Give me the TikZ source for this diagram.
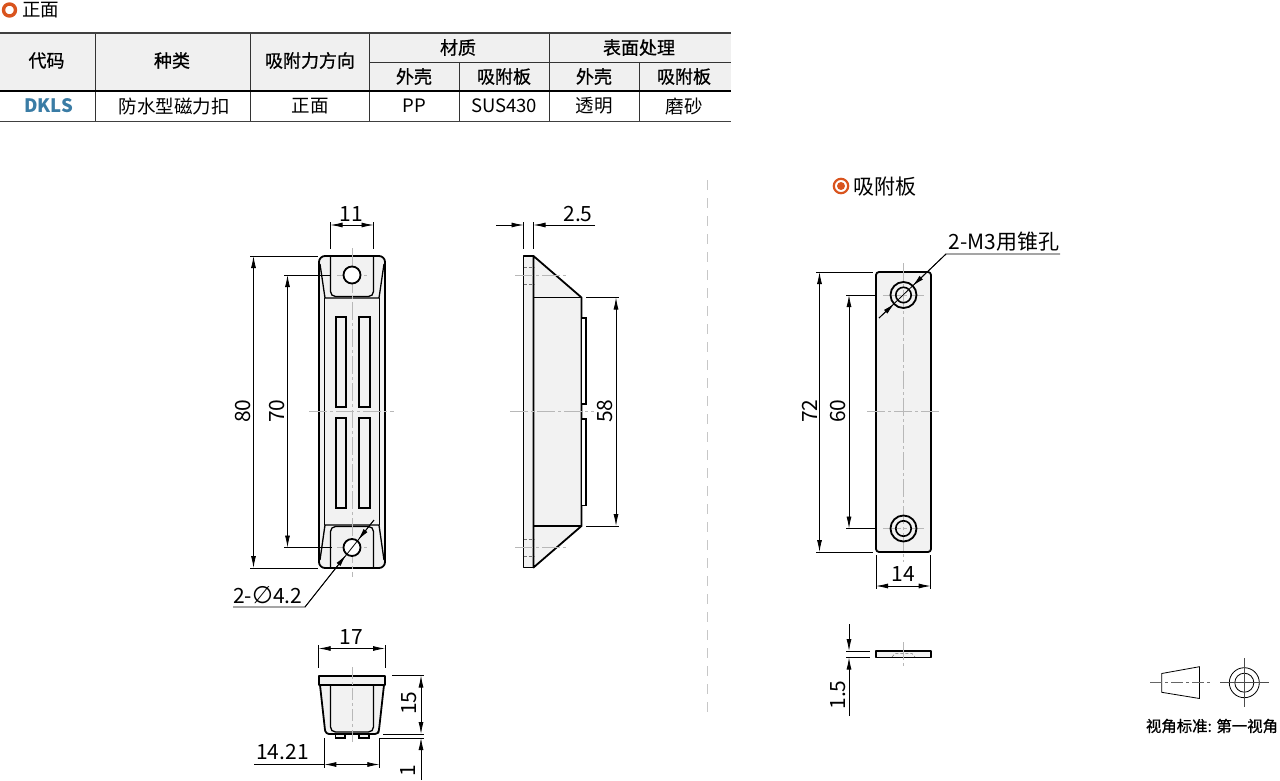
\documentclass[tikz,border=0pt]{standalone}
\usepackage{fontspec}
\setmainfont{Noto Sans CJK SC}
\newfontfamily\symfont{DejaVu Sans}
\newfontfamily\headfont[FakeBold=0.8]{Noto Sans CJK SC}
\usetikzlibrary{arrows.meta}
\definecolor{partfill}{HTML}{F2F2F2}
\definecolor{headfill}{HTML}{F0F0F0}
\definecolor{ringcol}{HTML}{D9541E}
\definecolor{codeblue}{HTML}{3A7CA5}
\tikzset{
    part/.style={draw=black, line width=1.8pt, fill=partfill, line join=round},
    edge/.style={draw=black, line width=1.3pt},
    dimline/.style={line width=0.8pt, {Latex[length=12pt,width=5pt]}-{Latex[length=12pt,width=5pt]}},
    leftdim/.style={line width=0.8pt, -{Latex[length=12pt,width=5pt]}},
    extline/.style={line width=0.8pt},
    axis/.style={draw=black!28, line width=0.6pt, dash pattern=on 18pt off 3pt on 3pt off 3pt},
    hidden/.style={draw=black!55, line width=0.8pt, dash pattern=on 3pt off 2pt},
    dimtext/.style={inner sep=0pt, font=\fontsize{21}{21}\selectfont},
    celltext/.style={inner sep=0pt, font=\fontsize{18.5}{18.5}\selectfont},
    headtext/.style={inner sep=0pt, font=\fontsize{18}{18}\headfont},
    tablerule/.style={draw=black!75, line width=1.8pt},
    cellrule/.style={draw=black!80, line width=0.9pt},
}
\begin{document}
\begin{tikzpicture}[x=1pt,y=-1pt]
    \useasboundingbox (0,0) rectangle (1280,781);

    % table
    \draw[ringcol, line width=3.4pt] (9.5,10) circle (6);
    \node[celltext, anchor=west] (titlefront) at (22,10.5) {正面};
    \fill[headfill] (0,33) rectangle (731,91);
    \foreach \xpos in {95,250,369,549} {
        \draw[cellrule] (\xpos,33) -- (\xpos,122);
    }
    \foreach \xpos in {459,639} {
        \draw[cellrule] (\xpos,62) -- (\xpos,122);
    }
    \draw[cellrule] (369,62) -- (731,62);
    \draw[tablerule] (0,33) -- (731,33);
    \draw[tablerule, draw=black] (0,91) -- (731,91);
    \draw[tablerule] (0,121.5) -- (731,121.5);

    \node[headtext] (headcode) at (46.5,60.5) {代码};
    \node[headtext] (headkind) at (172,60.5) {种类};
    \node[headtext] (headdir) at (310,60.5) {吸附力方向};
    \node[headtext] (headmat) at (458,47.5) {材质};
    \node[headtext] (headsurf) at (639,47.5) {表面处理};
    \node[headtext] (headcaseA) at (414,76.5) {外壳};
    \node[headtext] (headplateA) at (504,76.5) {吸附板};
    \node[headtext] (headcaseB) at (594,76.5) {外壳};
    \node[headtext] (headplateB) at (684,76.5) {吸附板};
    \node[inner sep=0pt, font=\fontsize{18.5}{18.5}\bfseries\selectfont, text=codeblue] (cellcode) at (48.5,105.5) {DKLS};
    \node[celltext] (cellkind) at (174,106) {防水型磁力扣};
    \node[celltext] (celldir) at (310,106) {正面};
    \node[celltext] (cellcase) at (414,106) {PP};
    \node[celltext] (cellplate) at (504,106) {SUS430};
    \node[celltext] (cellclear) at (594,106) {透明};
    \node[celltext] (cellfrost) at (684,106) {磨砂};

    \draw[black!22, line width=0.8pt, dash pattern=on 10pt off 8pt] (707,180) -- (707,712);

    % front view
    \path[part, rounded corners=6pt] (319,256) rectangle (385,568);
    \draw[edge] (324.5,298) -- (324.5,525) (379.5,298) -- (379.5,525);
    \draw[edge] (320,264) -- (325,298) -- (379,298) -- (384,264);
    \draw[edge] (320,560) -- (325,525) -- (379,525) -- (384,560);
    \draw[edge, rounded corners=5pt] (330.5,256) -- (330.5,296.5) -- (373.5,296.5) -- (373.5,256);
    \draw[edge, rounded corners=5pt] (330.5,568) -- (330.5,526.5) -- (373.5,526.5) -- (373.5,568);
    \draw[axis] (309,411) -- (394,411);
    \draw[axis] (352,248) -- (352,577);
    \draw[axis, line width=0.5pt] (337,275) -- (367,275) (337,547.5) -- (367,547.5);
    \foreach \xpos in {335.5,359} {
        \draw[edge, line width=2pt] (\xpos,317) rectangle ++(10.5,90);
        \draw[edge, line width=2pt] (\xpos,417.5) rectangle ++(10.5,90);
    }
    \draw[edge, fill=white, line width=1.8pt] (352,275) circle (8.5);
    \draw[edge, fill=white, line width=1.8pt] (352,547.5) circle (8.5);

    \draw[extline] (330.5,222) -- (330.5,249) (373.5,222) -- (373.5,249);
    \draw[dimline] (330.5,225) -- (373.5,225);
    \node[dimtext] (dimeleven) at (351,214) {11};
    \draw[extline] (250,256) -- (318,256) (250,568) -- (318,568);
    \draw[dimline] (253.5,256) -- (253.5,568);
    \node[dimtext, rotate=90] (dimeighty) at (243,411) {80};
    \draw[extline] (284,275) -- (330,275) (284,547.5) -- (332,547.5);
    \draw[dimline] (287.5,275) -- (287.5,547.5);
    \node[dimtext, rotate=90] (dimseventy) at (277,411) {70};
    \draw[extline] (233,607) -- (305,607) -- (374,520);
    \draw[leftdim] (374,520) -- (358,540);
    \draw[leftdim] (305,607) -- (346,555);
    \node[dimtext, anchor=west] (dimhole) at (233,595) {2-{\symfont\fontsize{24}{24}\selectfont ∅}4.2};

    % side view
    \path[part] (523.5,256) rectangle (533.5,567.5);
    \path[part] (533.5,256) -- (581.5,297.5) -- (581.5,526) -- (533.5,567.5) -- cycle;
    \draw[edge] (533.5,297.5) -- (581.5,297.5) (533.5,526) -- (581.5,526);
    \draw[edge, fill=white] (581.5,318) rectangle (586,404);
    \draw[edge, fill=white] (581.5,419) rectangle (586,505.5);
    \draw[axis] (510,411) -- (594,411);
    \draw[axis] (515,275) -- (566,275) (515,547) -- (566,547);
    \draw[hidden] (523.5,267) -- (534,267) (523.5,284) -- (534,284) (523.5,539) -- (534,539) (523.5,556) -- (534,556);

    \draw[extline] (523.5,222) -- (523.5,249) (533.5,222) -- (533.5,249);
    \draw[leftdim] (496,225) -- (523.5,225);
    \draw[leftdim] (595,225) -- (533.5,225);
    \node[dimtext] (dimflange) at (578,214) {2.5};
    \draw[extline] (586,297.5) -- (619,297.5) (586,526) -- (619,526);
    \draw[dimline] (616,297.5) -- (616,526);
    \node[dimtext, rotate=90] (dimfiftyeight) at (605,411) {58};

    % bottom view
    \path[part] (320,685) -- (325,730) [rounded corners=3pt] -- (326,734) -- (378,734) -- (379,730) [sharp corners] -- (384,685) -- cycle;
    \path[part] (319,676) rectangle (385,685);
    \draw[edge, rounded corners=5pt] (330.5,685) -- (330.5,732) -- (373.5,732) -- (373.5,685);
    \draw[edge, fill=partfill] (335.7,734) rectangle (345,738);
    \draw[edge, fill=partfill] (359,734) rectangle (369,738);
    \draw[axis, dash pattern=on 12pt off 3pt on 3pt off 3pt] (352,667) -- (352,742);

    \draw[extline] (318.7,645) -- (318.7,668) (385,645) -- (385,668);
    \draw[dimline] (318.7,648.5) -- (385,648.5);
    \node[dimtext] (dimseventeen) at (351,637) {17};
    \draw[extline] (392,675.5) -- (424,675.5) (383,734) -- (424,734) (379,738) -- (424,738);
    \draw[dimline] (421,675.5) -- (421,734);
    \draw[leftdim] (421,780) -- (421,738);
    \node[dimtext, rotate=90] (dimfifteen) at (409,703) {15};
    \node[dimtext, rotate=90] (dimone) at (408,771) {1};
    \draw[extline] (324.3,738) -- (324.3,768) (379.3,738) -- (379.3,768);
    \draw[dimline] (324.3,764.5) -- (379.3,764.5);
    \draw[extline] (254,764.5) -- (324.3,764.5);
    \node[dimtext] (dimwidth) at (282.5,752) {14.21};

    % plate
    \draw[ringcol, line width=2.2pt] (841,186) circle (7.2);
    \fill[ringcol] (841,186) circle (4);
    \node[dimtext, anchor=west] (titleplate) at (853,186.5) {吸附板};
    \path[part, rounded corners=3pt] (876,272) rectangle (931,552);
    \draw[axis, line width=0.5pt] (903.5,263) -- (903.5,562);
    \draw[axis, line width=0.5pt] (867,411) -- (940,411);
    \draw[axis, line width=0.5pt] (883,295) -- (924,295) (883,528.5) -- (924,528.5);
    \foreach \ypos in {295,528.5} {
        \draw[edge, line width=1.8pt] (903.5,\ypos) circle (13);
        \draw[edge, line width=1.6pt] (903.5,\ypos) circle (7.7);
    }
    \draw[extline] (816,272) -- (873,272) (816,552) -- (873,552);
    \draw[dimline] (819.5,272) -- (819.5,552);
    \node[dimtext, rotate=90] (dimseventytwo) at (810,411) {72};
    \draw[extline] (846,295) -- (876,295) (846,528.5) -- (876,528.5);
    \draw[dimline] (849,295) -- (849,528.5);
    \node[dimtext, rotate=90] (dimsixty) at (838,411) {60};
    \draw[extline] (876,555) -- (876,589) (930.7,555) -- (930.7,589);
    \draw[dimline] (876,586) -- (930.7,586);
    \node[dimtext] (dimfourteen) at (903,574) {14};
    \draw[extline] (1060,254) -- (946,254) -- (879,318);
    \draw[leftdim] (946,254) -- (912.5,286);
    \draw[leftdim] (879,318) -- (894.5,303.5);
    \node[dimtext, anchor=west] (dimthread) at (948.5,242) {2-M3用锥孔};

    % plate edge view
    \path[part] (876,651) rectangle (931,657.5);
    \draw[axis, line width=0.5pt] (903.5,642) -- (903.5,666);
    \draw[hidden, line width=0.5pt] (892,657) -- (895,653.5) -- (912,653.5) -- (915,657);
    \draw[extline] (846,651) -- (870,651) (846,657.5) -- (870,657.5);
    \draw[leftdim] (849,624) -- (849,651);
    \draw[leftdim] (849,716) -- (849,657.5);
    \node[dimtext, rotate=90] (dimthick) at (838,695) {1.5};

    % projection symbol
    \draw[line width=0.8pt] (1161.7,673.5) -- (1199.5,666.7) -- (1199.5,698.5) -- (1161.7,692.3) -- cycle;
    \draw[black!60, line width=0.7pt, dash pattern=on 12pt off 3pt on 3pt off 3pt] (1150,682.7) -- (1212,682.7);
    \draw[line width=0.8pt] (1244.3,682.7) circle (15);
    \draw[line width=0.8pt] (1244.3,682.7) circle (9.5);
    \draw[black!70, line width=0.7pt] (1220,682.7) -- (1269,682.7) (1244.3,658) -- (1244.3,707);
    \node[inner sep=0pt, font=\fontsize{15.4}{15.4}\headfont] (viewnote) at (1212,726) {视角标准: 第一视角};
\end{tikzpicture}
\end{document}
